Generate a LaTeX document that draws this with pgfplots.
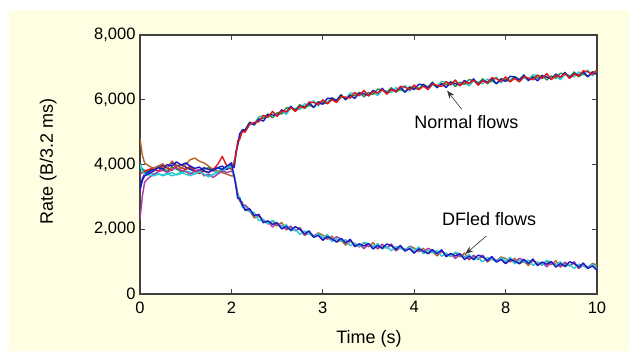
\documentclass[border=0pt]{standalone}
\usepackage{pgfplots}
\pgfplotsset{compat=1.18}
\usepackage{pgfplotstable}
\usepackage{fontspec}
\setmainfont{Liberation Sans}
\usetikzlibrary{arrows.meta}
\definecolor{bgyellow}{RGB}{255,254,226}
\definecolor{cred}{RGB}{228,22,22}
\definecolor{cgreen}{RGB}{40,140,60}
\definecolor{ccyan}{RGB}{40,205,212}
\definecolor{cblue}{RGB}{25,25,200}
\definecolor{cmag}{RGB}{170,60,170}
\definecolor{cbrown}{RGB}{180,100,40}
\pgfplotstableread{
x n1 n2 n3 n4 d1 d2 d3 d4
0.000 3700 3900 4000 3300 3200 3950 2300 4800
0.025 3750 3850 3880 3550 3500 3800 3000 4300
0.050 3800 3750 3820 3700 3650 3700 3450 4050
0.100 3850 3820 3760 3780 3720 3680 3600 3950
0.150 3900 3880 3700 3850 3800 3650 3700 3880
0.200 3780 3950 3720 3920 3900 3700 3780 3950
0.250 3950 3870 3650 3980 3850 3680 3820 4020
0.300 3880 3800 3700 3900 4000 3720 3750 3900
0.350 3820 3920 3750 4050 3950 3650 3850 4100
0.400 3980 3860 3680 3950 4080 3700 3900 3980
0.450 3900 3780 3720 4000 3980 3760 3820 3880
0.500 3850 3850 3800 3920 4050 3700 3780 4000
0.550 3950 3900 3760 3850 3950 3650 3700 4150
0.600 3800 3820 3700 3780 3880 3720 3800 4200
0.650 3720 3760 3780 3820 3920 3780 3850 4100
0.700 3800 3850 3700 3900 3800 3700 3650 4050
0.750 3750 3900 3650 3850 3750 3620 3700 3950
0.800 3850 3820 3700 3800 3850 3680 3600 3850
0.850 4000 3780 3750 3900 3900 3800 3700 3800
0.900 4250 3850 3800 3950 3850 3850 3800 3750
0.950 3950 3900 3850 3850 3950 3900 3750 3700
1.000 3850 3950 3900 4000 4050 3950 3800 3650
1.03 4060 3900 4110 3910 3630 3640 3680 3650
1.05 4310 4400 4270 4380 3320 3380 3370 3400
1.07 4740 4650 4690 4600 2950 3020 2960 3110
1.09 4780 4790 4830 4950 2950 3010 2930 2860
1.12 5020 5080 5070 5060 2750 2670 2700 2840
1.15 5000 5070 5010 5060 2590 2690 2750 2580
1.20 5250 5310 5230 5290 2630 2530 2610 2570
1.25 5300 5220 5250 5230 2420 2520 2410 2350
1.30 5320 5420 5480 5400 2460 2260 2440 2400
1.35 5520 5420 5500 5340 2200 2310 2210 2280
1.40 5460 5560 5450 5540 2260 2170 2240 2160
1.45 5640 5440 5620 5530 2150 2270 2070 2250
1.50 5490 5600 5500 5510 2200 2190 2180 2100
1.55 5650 5560 5630 5690 2010 2060 2100 2210
1.60 5630 5750 5550 5620 2090 2150 2000 1980
1.65 5760 5750 5740 5800 1970 1950 2100 2060
1.70 5640 5690 5730 5650 2080 2000 1950 1960
1.75 5790 5850 5700 5800 2000 1840 2050 2010
1.80 5750 5730 5880 5780 1860 1950 1820 1810
1.85 5930 5850 5800 5900 1950 1860 1900 1890
1.90 5920 5760 5970 5770 1750 1760 1800 1770
1.95 5850 5940 5810 5920 1810 1870 1860 1890
2.00 6000 5910 5950 5860 1660 1730 1670 1820
2.05 5875 5885 5925 6045 1780 1840 1760 1690
2.10 6000 6060 6050 6040 1700 1620 1650 1790
2.15 5915 5985 5925 5975 1610 1710 1770 1600
2.20 6100 6160 6080 6140 1720 1620 1700 1660
2.25 6080 6000 6030 6010 1580 1680 1570 1510
2.30 6050 6150 6210 6130 1690 1490 1670 1630
2.35 6220 6120 6200 6040 1465 1575 1475 1545
2.40 6130 6230 6120 6210 1550 1460 1530 1450
2.45 6290 6090 6270 6180 1480 1600 1400 1580
2.50 6115 6225 6125 6135 1560 1550 1540 1460
2.55 6250 6160 6230 6290 1390 1440 1480 1590
2.60 6210 6330 6130 6200 1500 1560 1410 1390
2.65 6315 6305 6295 6355 1410 1390 1540 1500
2.70 6175 6225 6265 6185 1545 1465 1415 1425
2.75 6310 6370 6220 6320 1495 1335 1545 1505
2.80 6250 6230 6380 6280 1380 1470 1340 1330
2.85 6415 6335 6285 6385 1500 1410 1450 1440
2.90 6390 6230 6440 6240 1325 1335 1375 1345
2.95 6310 6400 6270 6380 1400 1460 1450 1480
3.00 6455 6365 6405 6315 1260 1330 1270 1420
3.05 6310 6320 6360 6480 1395 1455 1375 1305
3.10 6420 6480 6470 6460 1325 1245 1275 1415
3.15 6315 6385 6325 6375 1250 1350 1410 1240
3.20 6485 6545 6465 6525 1370 1270 1350 1310
3.25 6450 6370 6400 6380 1245 1345 1235 1175
3.30 6410 6510 6570 6490 1365 1165 1345 1305
3.35 6560 6460 6540 6380 1155 1265 1165 1235
3.40 6460 6560 6450 6540 1255 1165 1235 1155
3.45 6610 6410 6590 6500 1175 1295 1095 1275
3.50 6430 6540 6440 6450 1245 1235 1225 1145
3.55 6560 6470 6540 6600 1065 1115 1155 1265
3.60 6505 6625 6425 6495 1165 1225 1075 1055
3.65 6605 6595 6585 6645 1070 1050 1200 1160
3.70 6450 6500 6540 6460 1200 1120 1070 1080
3.75 6585 6645 6495 6595 1150 990 1200 1160
3.80 6515 6495 6645 6545 1040 1130 1000 990
3.85 6680 6600 6550 6650 1155 1065 1105 1095
3.90 6650 6490 6700 6500 985 995 1035 1005
3.95 6565 6655 6525 6635 1065 1125 1115 1145
4.00 6705 6615 6655 6565 935 1005 945 1095
4.05 6555 6565 6605 6725 1075 1135 1055 985
4.10 6660 6720 6710 6700 1015 935 965 1105
4.15 6550 6620 6560 6610 940 1040 1100 930
4.20 6710 6770 6690 6750 1070 970 1050 1010
4.25 6670 6590 6620 6600 950 1050 940 880
4.30 6615 6715 6775 6695 1080 880 1060 1020
4.35 6765 6665 6745 6585 880 990 890 960
4.40 6660 6760 6650 6740 990 900 970 890
4.45 6810 6610 6790 6700 920 1040 840 1020
4.50 6625 6735 6635 6645 1000 990 980 900
4.55 6755 6665 6735 6795 830 880 920 1030
4.60 6700 6820 6620 6690 940 1000 850 830
4.65 6805 6795 6785 6845 855 835 985 945
4.70 6660 6710 6750 6670 995 915 865 875
4.75 6795 6855 6705 6805 945 785 995 955
4.80 6730 6710 6860 6760 835 925 795 785
4.85 6895 6815 6765 6865 955 865 905 895
4.90 6865 6705 6915 6715 785 795 835 805
4.95 6780 6870 6740 6850 865 925 915 945
5.00 6920 6830 6870 6780 735 805 745 895
}\flows
\begin{document}
\begin{tikzpicture}
\fill[white] (0pt,0pt) rectangle (629pt,351pt);
\fill[bgyellow] (9pt,0pt) rectangle (629pt,341pt);
\begin{axis}[
  at={(140pt,57pt)}, anchor=south west,
  scale only axis, width=457pt, height=259pt,
  xmin=0, xmax=5, ymin=0, ymax=8000,
  xtick={0,1,2,3,4,5}, xticklabels={0,2,3,4,8,10},
  ytick={0,2000,4000,6000,8000},
  scaled y ticks=false,
  /pgf/number format/.cd, 1000 sep={,}, assume math mode=true, /pgfplots/.cd,
  tick align=inside, tick pos=both, major tick length=5pt,
  axis line style={black!75, line width=1.1pt},
  every tick/.style={black!75, line width=0.8pt},
  axis background/.style={fill=white},
  ticklabel style={font=\fontsize{16.5}{18}\selectfont},
  xticklabel style={yshift=-4pt},
  yticklabel style={xshift=-1pt},
  label style={font=\fontsize{18}{20}\selectfont},
  xlabel={Time (s)},
  ylabel={Rate (B/3.2 ms)},
  xlabel style={at={(axis description cs:0.501,-0.172)}, anchor=center},
  ylabel style={at={(axis description cs:-0.201,0.51)}, anchor=center},
  every axis plot/.append style={line width=1.4pt, mark=none, line join=round},
]
\addplot[ccyan] table[x=x,y=n3] {\flows};
\addplot[cgreen] table[x=x,y=n2] {\flows};
\addplot[cblue] table[x=x,y=n4] {\flows};
\addplot[cred] table[x=x,y=n1] {\flows};
\addplot[cbrown] table[x=x,y=d4] {\flows};
\addplot[cmag] table[x=x,y=d3] {\flows};
\addplot[ccyan] table[x=x,y=d2] {\flows};
\addplot[cblue] table[x=x,y=d1] {\flows};
\node[font=\fontsize{18}{20}\selectfont] at (axis cs:3.57,5322) {Normal flows};
\draw[-{Stealth[length=8pt,width=6pt]}, line width=0.6pt, black!80] (axis cs:3.52,5705) -- (axis cs:3.36,6280);
\node[font=\fontsize{18}{20}\selectfont] at (axis cs:3.82,2307) {DFled flows};
\draw[-{Stealth[length=8pt,width=6pt]}, line width=0.6pt, black!80] (axis cs:3.79,1791) -- (axis cs:3.56,1235);
\end{axis}
\end{tikzpicture}
\end{document}
